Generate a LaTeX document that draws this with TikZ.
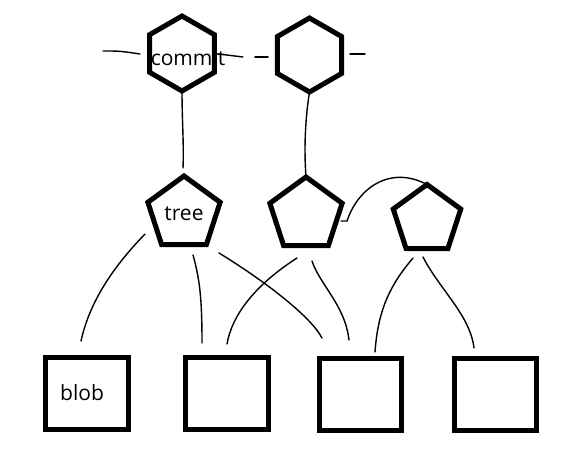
\documentclass[tikz,border=0pt]{standalone}
\usepackage{fontspec}
\setmainfont{Open Sans}
\usetikzlibrary{shapes.geometric}
\tikzset{
 hexa/.style={draw, regular polygon, regular polygon sides=6, shape border rotate=30, line width=5pt, inner sep=0pt, outer sep=0pt},
 penta/.style={draw, regular polygon, regular polygon sides=5, line width=5pt, inner sep=0pt, outer sep=0pt},
 boxnode/.style={draw, rectangle, line width=5pt, minimum width=83pt, minimum height=72pt, inner sep=0pt, outer sep=0pt},
 link/.style={line width=1.4pt, line cap=round},
 lbl/.style={font=\fontsize{21}{25}\selectfont, inner sep=0pt}
}
\begin{document}
\begin{tikzpicture}[x=1pt,y=-1pt]
\useasboundingbox (0,0) rectangle (572,453);
% hexagons
\node[hexa, minimum size=75pt] (h1) at (182,53.5) {};
\node[hexa, minimum size=74pt] (h2) at (309.5,55) {};
\node[lbl] (tc) at (188,58) {commit};
% pentagons
\node[penta, minimum size=76pt] (p1) at (184,214) {};
\node[penta, minimum size=76pt] (p2) at (306,215) {};
\node[penta, minimum size=71pt] (p3) at (427,220) {};
\node[lbl] (tt) at (184,214) {tree};
% boxes
\node[boxnode] (b1) at (87,393.5) {};
\node[boxnode] (b2) at (227,393.5) {};
\node[boxnode, minimum width=82pt] (b3) at (360.5,394.5) {};
\node[boxnode, minimum width=82pt] (b4) at (495.5,394.5) {};
\node[lbl] (tb) at (82,393) {blob};
% free ends
\coordinate (l1a) at (103,51);
\coordinate (l1b) at (140,54);
\coordinate (r1b) at (243,57);
\coordinate (d1a) at (255,57);
\coordinate (d1b) at (268,57);
\coordinate (r2a) at (350,54);
\coordinate (r2b) at (365,54);
\coordinate (c1) at (183,168);
\coordinate (c2a) at (341,221);
\coordinate (c2b) at (347,221);
\coordinate (u1) at (145,234);  \coordinate (v1) at (81,341);
\coordinate (u2) at (193,255);  \coordinate (v2) at (202,343);
\coordinate (u3) at (219,253);  \coordinate (v3) at (322,338);
\coordinate (u4) at (297,258);  \coordinate (v4) at (227,344);
\coordinate (u5) at (312,261);  \coordinate (v5) at (349,340);
\coordinate (u6) at (413,258);  \coordinate (v6) at (375,352);
\coordinate (u7) at (423,257);  \coordinate (v7) at (474,348);
% top connectors
\draw[link] (l1a) .. controls (120,51) .. (l1b);
\draw[link] (h1.east) -- (r1b);
\draw[link] (d1a) -- (d1b);
\draw[link] (r2a) -- (r2b);
\draw[link] (h1.south) .. controls (182,120) and (184,145) .. (c1);
\draw[link] (h2.south) .. controls (305,120) and (304,150) .. (p2.north);
\draw[link] (c2a) -- (c2b) .. controls (358,188) and (390,165) .. (p3.north);
% lower connectors
\draw[link] (u1) .. controls (115,265) and (90,300) .. (v1);
\draw[link] (u2) .. controls (200,280) and (202,300) .. (v2);
\draw[link] (u3) .. controls (260,278) and (310,315) .. (v3);
\draw[link] (u4) .. controls (255,285) and (232,315) .. (v4);
\draw[link] (u5) .. controls (320,285) and (345,305) .. (v5);
\draw[link] (u6) .. controls (390,285) and (378,310) .. (v6);
\draw[link] (u7) .. controls (440,290) and (470,315) .. (v7);
\end{tikzpicture}
\end{document}
